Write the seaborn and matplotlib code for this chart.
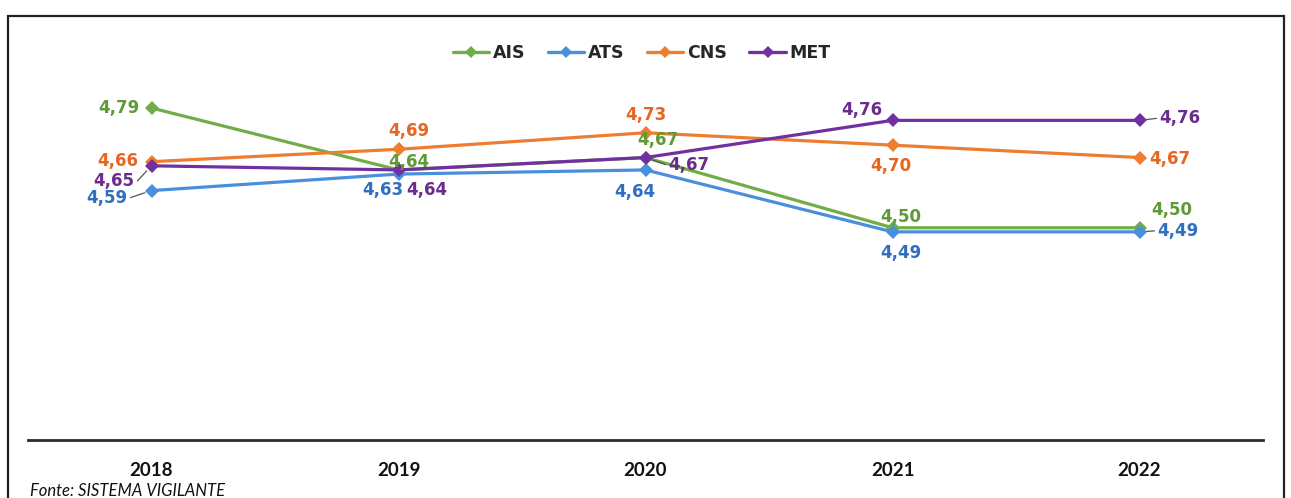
import matplotlib
matplotlib.use("Agg")
import matplotlib.pyplot as plt
from matplotlib.patches import Rectangle
from matplotlib.lines import Line2D
import seaborn as sns
import pandas as pd

years = ["2018", "2019", "2020", "2021", "2022"]
series = ["AIS", "ATS", "CNS", "MET"]
ais = [4.79, 4.64, 4.67, 4.50, 4.50]
ats = [4.59, 4.63, 4.64, 4.49, 4.49]
cns = [4.66, 4.69, 4.73, 4.70, 4.67]
met = [4.65, 4.64, 4.67, 4.76, 4.76]

line_colors = {"AIS": "#70AD47", "ATS": "#4A8FDC", "CNS": "#ED7D31", "MET": "#7030A0"}
label_colors = {"AIS": "#5E9A36", "ATS": "#2F6FBF", "CNS": "#E8651F", "MET": "#6A2C8E"}

# label placement per point: (dx px, dy px, ha, leader line)
placements = {
    "AIS": [(-12, 0, "right", False), (10, 8, "center", False), (12, 18, "center", False),
            (8, 11, "center", False), (32, 18, "center", False)],
    "ATS": [(-24, -7, "right", True), (-16, -16, "center", False), (-11, -22, "center", False),
            (8, -21, "center", False), (18, 1, "left", True)],
    "CNS": [(-13, 1, "right", False), (10, 18, "center", False), (0, 18, "center", False),
            (-2, -21, "center", False), (10, -1, "left", False)],
    "MET": [(-17, -15, "right", True), (28, -20, "center", False), (23, -7, "left", True),
            (-31, 10, "center", False), (20, 2, "left", True)],
}

values = {"AIS": ais, "ATS": ats, "CNS": cns, "MET": met}
df = pd.DataFrame(
    [{"x": i, "ano": years[i], "serie": s, "valor": values[s][i]}
     for s in series for i in range(len(years))]
)

sns.set_theme(style="white")
plt.rcParams["font.family"] = ["DejaVu Sans"]

fig = plt.figure(figsize=(12.91, 4.98), dpi=100)
W, H = 1291, 498
ax = fig.add_axes([28 / W, 58 / H, 1235 / W, 370 / H])

sns.lineplot(data=df, x="x", y="valor", hue="serie", palette=line_colors,
             style="serie", markers={s: "D" for s in series}, dashes=False,
             markersize=7.5, linewidth=2.3, markeredgewidth=0, ax=ax, legend=False)

ax.set_xlim(-0.5, len(years) - 0.5)
ax.set_ylim(3.986, 4.882)
ax.set_xticks(range(len(years)))
ax.set_xticklabels(years, fontsize=13.5, fontweight="bold", family="Lato", color="#111111")
ax.tick_params(axis="x", length=0, pad=16)
ax.set_yticks([])
ax.set_xlabel("")
ax.set_ylabel("")
for side in ["top", "left", "right"]:
    ax.spines[side].set_visible(False)
ax.spines["bottom"].set_color("#2a2a2a")
ax.spines["bottom"].set_linewidth(2.0)

for s in series:
    for i, v in enumerate(values[s]):
        dx, dy, ha, leader = placements[s][i]
        txt = f"{v:.2f}".replace(".", ",")
        ax.annotate(txt, xy=(i, v), xytext=(dx, dy), textcoords="offset pixels",
                    ha=ha, va="center", fontsize=12, fontweight="bold",
                    color=label_colors[s])
        if leader:
            sign = -1 if ha == "right" else 1
            ax.annotate("", xy=(i, v), xytext=(dx - sign * 3, dy), textcoords="offset pixels",
                        arrowprops=dict(arrowstyle="-", color="#555555", lw=0.9,
                                        shrinkA=0, shrinkB=5))

handles = [Line2D([0], [0], color=line_colors[s], lw=2.4, marker="D", markersize=6.5,
                  markeredgewidth=0) for s in series]
fig.legend(handles, series, loc="center", bbox_to_anchor=(0.497, 1 - 53 / H), ncol=4,
           frameon=False, handlelength=2.1, columnspacing=1.3, handletextpad=0.2,
           prop={"weight": "bold", "size": 12.5})

fig.patches.append(Rectangle((8 / W, -0.05), 1276 / W, 1.05 - 16 / H, transform=fig.transFigure,
                             fill=False, edgecolor="#222222", lw=1.6))

fig.text(30 / W, 1 - 491 / H, "Fonte: SISTEMA VIGILANTE", fontsize=12, style="italic",
         family="Lato", color="#111111", va="center")

fig.savefig("out.png", dpi=100)
